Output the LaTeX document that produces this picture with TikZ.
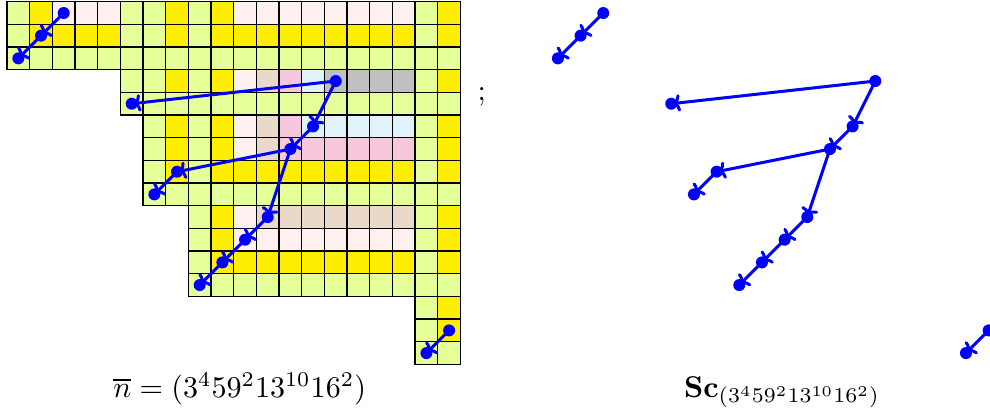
\documentclass[tikz,border=0pt]{standalone}
\usetikzlibrary{arrows.meta}
\definecolor{gn}{RGB}{229,255,153}
\definecolor{yw}{RGB}{255,238,0}
\definecolor{pl}{RGB}{255,240,240}
\definecolor{tn}{RGB}{234,217,200}
\definecolor{pk}{RGB}{247,200,220}
\definecolor{bl}{RGB}{224,242,250}
\definecolor{gy}{RGB}{192,192,192}
\begin{document}
\begin{tikzpicture}[x=0.265cm, y=-0.265cm, >={To[width=5.8pt, length=2.4pt]}, vtx/.style={circle, fill=blue, inner sep=0pt, minimum size=4pt}]
	\useasboundingbox (-0.31, -0.075) rectangle (43.36, 18.05);
	% the diagram, row by row: row / first column / colours
	\foreach \r / \s / \cells in {
			0/0/{gn,yw,pl,pl,pl,gn,gn,yw,gn,yw,pl,pl,pl,pl,pl,pl,pl,pl,gn,yw},
			1/0/{gn,yw,yw,yw,yw,gn,gn,yw,gn,yw,yw,yw,yw,yw,yw,yw,yw,yw,gn,yw},
			2/0/{gn,gn,gn,gn,gn,gn,gn,gn,gn,gn,gn,gn,gn,gn,gn,gn,gn,gn,gn,gn},
			3/5/{gn,gn,yw,gn,yw,pl,tn,pk,bl,gy,gy,gy,gy,gn,yw},
			4/5/{gn,gn,gn,gn,gn,gn,gn,gn,gn,gn,gn,gn,gn,gn,gn},
			5/6/{gn,yw,gn,yw,pl,tn,pk,bl,bl,bl,bl,bl,gn,yw},
			6/6/{gn,yw,gn,yw,pl,tn,pk,pk,pk,pk,pk,pk,gn,yw},
			7/6/{gn,yw,gn,yw,yw,yw,yw,yw,yw,yw,yw,yw,gn,yw},
			8/6/{gn,gn,gn,gn,gn,gn,gn,gn,gn,gn,gn,gn,gn,gn},
			9/8/{gn,yw,pl,tn,tn,tn,tn,tn,tn,tn,gn,yw},
			10/8/{gn,yw,pl,pl,pl,pl,pl,pl,pl,pl,gn,yw},
			11/8/{gn,yw,yw,yw,yw,yw,yw,yw,yw,yw,gn,yw},
			12/8/{gn,gn,gn,gn,gn,gn,gn,gn,gn,gn,gn,gn},
			13/18/{gn,yw}, 14/18/{gn,yw}, 15/18/{gn,gn}} {
		\foreach \col [count=\c from \s] in \cells {
			\filldraw[fill=\col, draw=black] (\c, \r) rectangle ++(1, 1);
		}
	}
	\node (semi) at (20.94, 4.35) [anchor=base] {;};
	% the forest, in the diagram and beside it
	\foreach \o / \p in {0/L, 23.8/R} {
		\foreach \n / \x / \y in {1/2.5/0.5, 2/1.5/1.5, 3/0.5/2.5, 4/14.5/3.5, 5/5.5/4.5, 6/13.5/5.5, 7/12.5/6.5, 8/7.5/7.5,
				9/6.5/8.5, 10/11.5/9.5, 11/10.5/10.5, 12/9.5/11.5, 13/8.5/12.5, 14/19.5/14.5, 15/18.5/15.5} {
			\node[vtx] (\p\n) at (\o+\x, \y) {};
		}
		\foreach \a / \b in {1/2, 2/3, 4/5, 4/6, 6/7, 7/8, 8/9, 7/10, 10/11, 11/12, 12/13, 14/15} {
			\draw[->, blue, line width=1pt, shorten >=0.6pt] (\p\a.center) -- (\p\b.center);
		}
	}
	\node (nbar) at (10.26, 17.44) [anchor=base] {$\overline{n}=(3^4 5 9^2 13^{10} 16^2)$};
	\node (sc) at (34.19, 17.44) [anchor=base] {$\mathbf{Sc}_{(3^4 5 9^2 13^{10} 16^2)}$};
\end{tikzpicture}
\end{document}
